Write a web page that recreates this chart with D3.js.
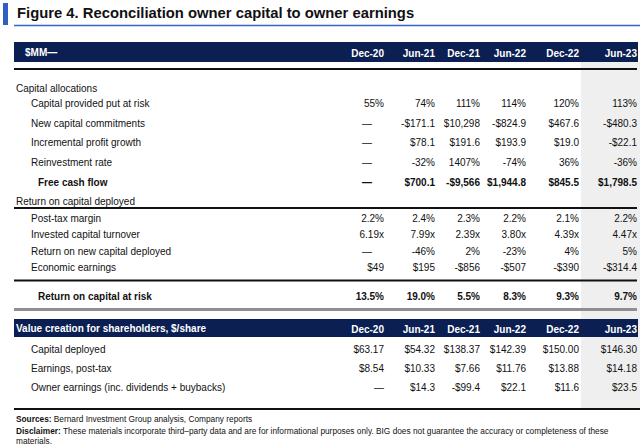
<!DOCTYPE html>
<html>
<head>
<meta charset="utf-8">
<script src="https://cdn.jsdelivr.net/npm/d3@7"></script>
<style>
  body { margin: 0; background: #fff; }
  svg text { font-family: "Liberation Sans", Arial, sans-serif; }
</style>
</head>
<body>
<div id="chart"></div>
<script>
// table data
var periods = ["Dec-20", "Jun-21", "Dec-21", "Jun-22", "Dec-22", "Jun-23"];

var capitalProvided   = ["55%", "74%", "111%", "114%", "120%", "113%"];
var newCapital        = ["—", "-$171.1", "$10,298", "-$824.9", "$467.6", "-$480.3"];
var incrementalProfit = ["—", "$78.1", "$191.6", "$193.9", "$19.0", "-$22.1"];
var reinvestmentRate  = ["—", "-32%", "1407%", "-74%", "36%", "-36%"];
var freeCashFlow      = ["—", "$700.1", "-$9,566", "$1,944.8", "$845.5", "$1,798.5"];
var postTaxMargin     = ["2.2%", "2.4%", "2.3%", "2.2%", "2.1%", "2.2%"];
var capitalTurnover   = ["6.19x", "7.99x", "2.39x", "3.80x", "4.39x", "4.47x"];
var returnNewCapital  = ["—", "-46%", "2%", "-23%", "4%", "5%"];
var economicEarnings  = ["$49", "$195", "-$856", "-$507", "-$390", "-$314.4"];
var returnAtRisk      = ["13.5%", "19.0%", "5.5%", "8.3%", "9.3%", "9.7%"];
var capitalDeployed   = ["$63.17", "$54.32", "$138.37", "$142.39", "$150.00", "$146.30"];
var earningsPostTax   = ["$8.54", "$10.33", "$7.66", "$11.76", "$13.88", "$14.18"];
var ownerEarnings     = ["—", "$14.3", "-$99.4", "$22.1", "$11.6", "$23.5"];

var title = "Figure 4. Reconciliation owner capital to owner earnings";
var unitLabel = "$MM—";
var sectionTwoLabel = "Value creation for shareholders, $/share";
var sourcesText = "Bernard Investment Group analysis, Company reports";
var disclaimerText = "These materials incorporate third–party data and are for informational purposes only. BIG does not guarantee the accuracy or completeness of these";
var disclaimerText2 = "materials.";

// rows of the table (label, values, style)
var rows = [
  { key: "alloc", label: "Capital allocations", values: null, level: 0 },
  { key: "prov", label: "Capital provided put at risk", values: capitalProvided, level: 1 },
  { key: "newc", label: "New capital commitments", values: newCapital, level: 1 },
  { key: "incr", label: "Incremental profit growth", values: incrementalProfit, level: 1 },
  { key: "reinv", label: "Reinvestment rate", values: reinvestmentRate, level: 1 },
  { key: "fcf", label: "Free cash flow", values: freeCashFlow, level: 2, bold: true },
  { key: "rocd", label: "Return on capital deployed", values: null, level: 0 },
  { key: "ptm", label: "Post-tax margin", values: postTaxMargin, level: 1 },
  { key: "ict", label: "Invested capital turnover", values: capitalTurnover, level: 1 },
  { key: "rnc", label: "Return on new capital deployed", values: returnNewCapital, level: 1 },
  { key: "ee", label: "Economic earnings", values: economicEarnings, level: 1 },
  { key: "rcr", label: "Return on capital at risk", values: returnAtRisk, level: 2, bold: true },
  { key: "cd", label: "Capital deployed", values: capitalDeployed, level: 1, lower: true },
  { key: "ept", label: "Earnings, post-tax", values: earningsPostTax, level: 1, lower: true },
  { key: "oe", label: "Owner earnings (inc. dividends + buybacks)", values: ownerEarnings, level: 1, lower: true }
];

var W = 640, H = 448;
var left = 14, right = 637;

var svg = d3.select("#chart").append("svg")
  .attr("width", W)
  .attr("height", H);

// column positions (right edge of each number column)
var x = d3.scaleOrdinal()
  .domain(periods)
  .range([384, 435, 480, 526, 579, 637]);

// vertical position (text centre) of each row
var y = d3.scaleOrdinal()
  .domain(rows.map(function (d) { return d.key; }))
  .range([88, 103, 123, 142, 162, 182, 201, 218, 234, 251, 267, 296, 349, 368, 387]);

var indent = d3.scaleOrdinal().domain([0, 1, 2]).range([16, 31, 38]);

var navy = "#0b1f52";

// shaded latest column
svg.append("rect")
  .attr("x", 581).attr("y", 62)
  .attr("width", W - 581).attr("height", 346)
  .attr("fill", "#efefef");

// title
svg.append("rect").attr("x", 3).attr("y", 3).attr("width", 5).attr("height", 22).attr("fill", "#2f5fc0");
svg.append("text")
  .attr("x", 17).attr("y", 18)
  .attr("font-size", 14.8).attr("font-weight", "bold")
  .attr("fill", "#111")
  .text(title);
svg.append("line")
  .attr("x1", left).attr("x2", W).attr("y1", 25.5).attr("y2", 25.5)
  .attr("stroke", "#3466c4").attr("stroke-width", 1.5);

// header bars
function headerBar(y0, h, label, labelX) {
  svg.append("rect")
    .attr("x", left).attr("y", y0)
    .attr("width", right - left + 1).attr("height", h)
    .attr("fill", navy);
  svg.append("text")
    .attr("x", labelX).attr("y", y0 + h / 2).attr("dy", "0.35em")
    .attr("font-size", 10).attr("font-weight", "bold").attr("fill", "#fff")
    .text(label);
  svg.selectAll(null).data(periods).enter().append("text")
    .attr("x", function (d) { return x(d); })
    .attr("y", y0 + h / 2 + 1).attr("dy", "0.35em")
    .attr("text-anchor", "end")
    .attr("font-size", 10).attr("font-weight", "bold").attr("fill", "#fff")
    .text(function (d) { return d; });
}
headerBar(42, 20, unitLabel, 25);
headerBar(319, 18, sectionTwoLabel, 16);

// rules
function rule(yy, color, w, x2) {
  svg.append("line")
    .attr("x1", left).attr("x2", x2 || right)
    .attr("y1", yy).attr("y2", yy)
    .attr("stroke", color).attr("stroke-width", w);
}
rule(69, "#111", 2);
rule(208, "#111", 2);
rule(280.5, "#111", 2);
rule(309.5, "#8f8f8f", 3);
rule(409, "#111", 2, W);

// row labels
svg.selectAll(".rowlabel").data(rows).enter().append("text")
  .attr("class", "rowlabel")
  .attr("x", function (d) { return indent(d.level); })
  .attr("y", function (d) { return y(d.key); })
  .attr("dy", "0.35em")
  .attr("font-size", 10)
  .attr("font-weight", function (d) { return d.bold ? "bold" : "normal"; })
  .attr("fill", "#111")
  .text(function (d) { return d.label; });

// cell values
var cells = [];
rows.forEach(function (r) {
  if (!r.values) return;
  r.values.forEach(function (v, i) {
    cells.push({ row: r, period: periods[i], value: v });
  });
});

svg.selectAll(".cell").data(cells).enter().append("text")
  .attr("class", "cell")
  .attr("x", function (d) {
    // dashes in the upper table sit in the middle of the column
    if (d.value === "—" && !d.row.lower) return x(d.period) - 17;
    return x(d.period);
  })
  .attr("y", function (d) { return y(d.row.key); })
  .attr("dy", "0.35em")
  .attr("text-anchor", function (d) { return d.value === "—" && !d.row.lower ? "middle" : "end"; })
  .attr("font-size", 10)
  .attr("font-weight", function (d) { return d.row.bold ? "bold" : "normal"; })
  .attr("fill", "#111")
  .text(function (d) { return d.value; });

// footer
var fs = 8.3;
var f1 = svg.append("text").attr("x", 16).attr("y", 422).attr("font-size", fs).attr("fill", "#111");
f1.append("tspan").attr("font-weight", "bold").text("Sources: ");
f1.append("tspan").text(sourcesText);
var f2 = svg.append("text").attr("x", 16).attr("y", 434).attr("font-size", fs).attr("fill", "#111");
f2.append("tspan").attr("font-weight", "bold").text("Disclaimer: ");
f2.append("tspan").text(disclaimerText);
svg.append("text").attr("x", 16).attr("y", 444).attr("font-size", fs).attr("fill", "#111").text(disclaimerText2);
</script>
</body>
</html>
